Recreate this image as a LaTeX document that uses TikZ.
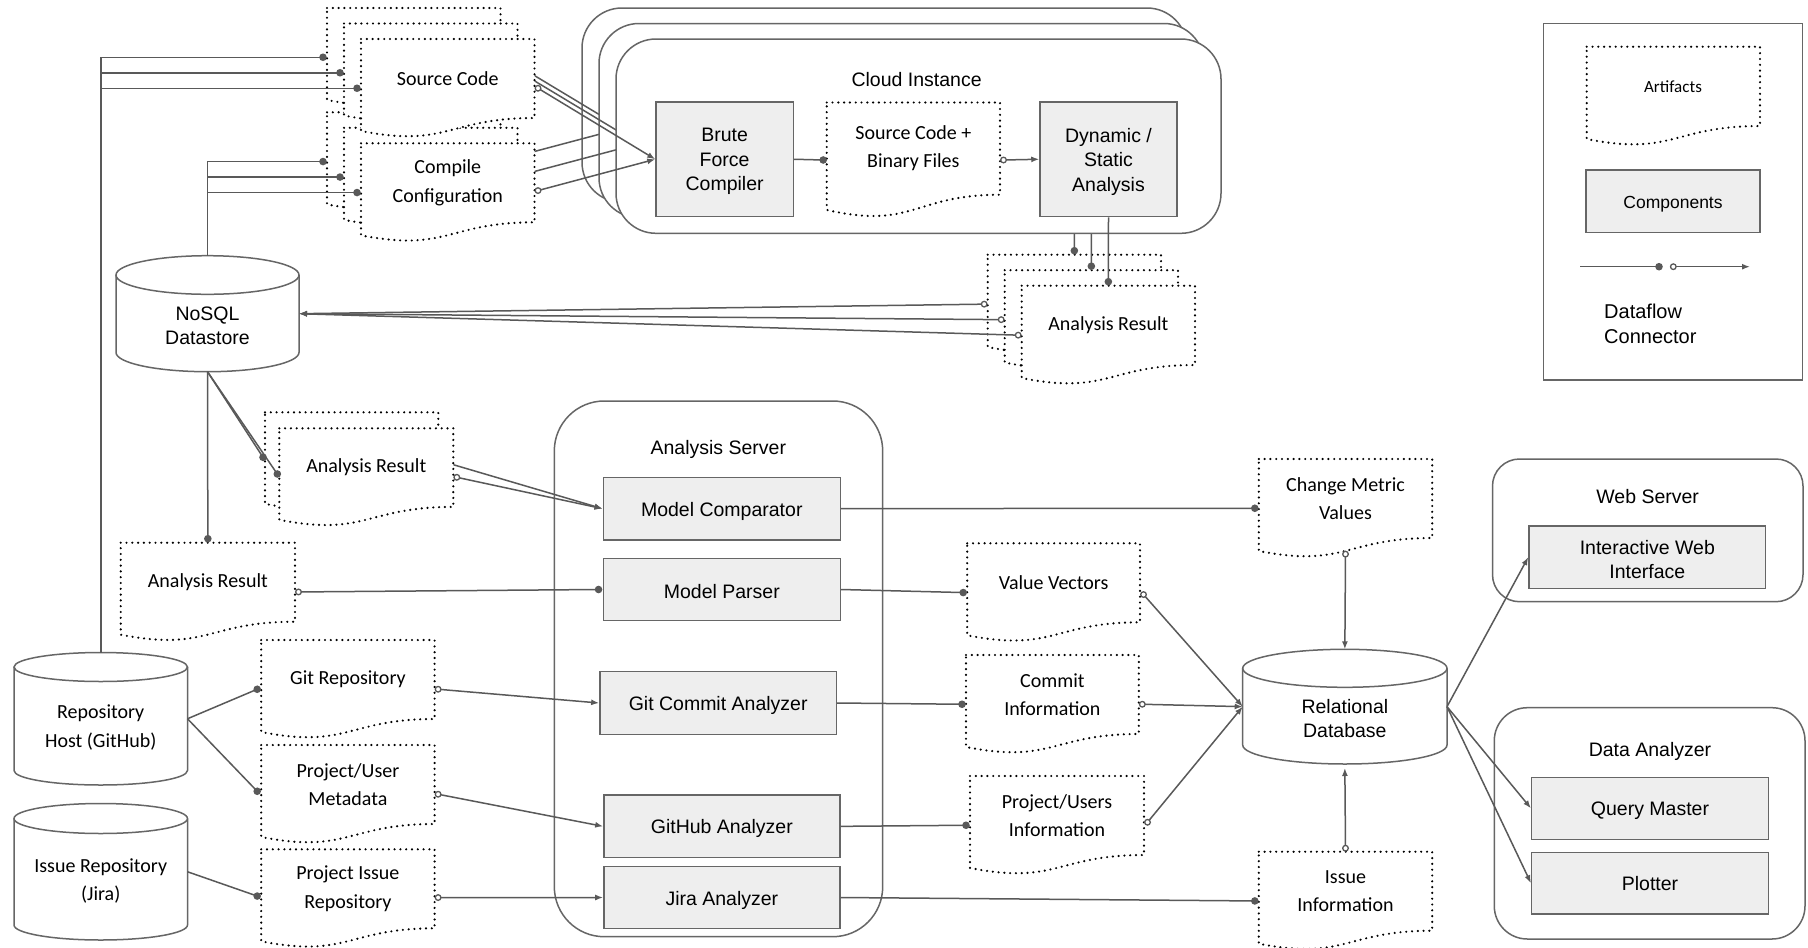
\documentclass[tikz,border=0pt]{standalone}
\usepackage{fontspec}
\setmainfont{Liberation Sans}
\newfontfamily\artf{Carlito}
\usetikzlibrary{calc,arrows.meta}
\definecolor{lc}{HTML}{595959}
\definecolor{bc}{HTML}{666666}
\definecolor{cf}{HTML}{EEEEEE}
\newcommand\comptxt{\fontsize{19.5}{24.5}\selectfont}
\newcommand\arttxt{\artf\fontsize{20}{28.3}\selectfont}
\tikzset{
  flow/.style={draw=lc, line width=1.5pt},
  arr/.style={draw=lc, line width=1.5pt, -{Latex[length=8pt,width=6pt]}},
  shapeline/.style={draw=bc, line width=1.5pt},
  docline/.style={draw=black, line width=2.4pt, dash pattern=on 0pt off 5.8pt, line cap=round, fill=white},
  anchorbox/.style={rectangle, inner sep=0pt, outer sep=0pt, draw=none},
  comp/.style={rectangle, draw=bc, line width=1.5pt, fill=cf, inner sep=0pt},
  cont/.style={rectangle, draw=bc, line width=1.5pt, fill=white, inner sep=0pt},
  ctextnode/.style={font=\comptxt, align=center, inner sep=0pt, yshift=-2.5pt},
  atextnode/.style={font=\arttxt, align=center, inner sep=0pt},
  cyltext/.style={font=\arttxt, align=center, inner sep=0pt, yshift=-1.5pt},
}
\newcommand\fldot[1]{\fill[lc] (#1) circle[radius=3.8];}
\newcommand\opdot[1]{\draw[lc, line width=1.3pt, fill=white] (#1) circle[radius=2.8];}
% component box: name, cx, cy, w, h, text
\newcommand\compnode[6]{%
  \node[comp, minimum width=#4pt, minimum height=#5pt] (#1) at (#2,#3) {};
  \node[ctextnode] (#1-t) at (#1.center) {#6};
}
% document (artifact) shape: name, x, y, w, h, text
\newcommand\docnode[6]{%
  \node[anchorbox, minimum width=#4pt, minimum height=#5pt, anchor=north west] (#1) at (#2,#3) {};
  \path[docline] (#1.north west) -- (#1.north east) -- ($(#1.north east)!0.802!(#1.south east)$)
    .. controls ($(#1.north)!0.802!(#1.south)$) and ($(#1.north)!1.107!(#1.south)$) ..
    ($(#1.north west)!0.934!(#1.south west)$) -- cycle;
  \if\relax\detokenize{#6}\relax\else
  \node[atextnode] (#1-t) at ($(#1.north)!0.4!(#1.south)$) {#6};
  \fi
}
% cylinder: name, L, T, W, H, ry, text, text style
\newcommand\cylnode[8]{%
  \pgfmathsetmacro\cyX{#2+#4/2}%
  \pgfmathsetmacro\cyR{#2+#4}%
  \pgfmathsetmacro\cyA{#3+#6}%
  \pgfmathsetmacro\cyB{#3+#5-#6}%
  \pgfmathsetmacro\cyBot{#3+#5}%
  \pgfmathsetmacro\cyH{#4/2}%
  \pgfmathsetmacro\cyKa{0.5523*#4/2}%
  \pgfmathsetmacro\cyKr{0.5523*#6}%
  \pgfmathsetmacro\cyT{(#3+#6+#3+#5)/2}%
  \node[anchorbox, minimum width=#4pt, minimum height=#5pt, anchor=north west] (#1) at (#2,#3) {};
  \draw[shapeline, fill=white] (#2,\cyA) -- (#2,\cyB) .. controls (#2,\cyB+\cyKr) and (\cyX-\cyKa,\cyBot) .. (\cyX,\cyBot)
     .. controls (\cyX+\cyKa,\cyBot) and (\cyR,\cyB+\cyKr) .. (\cyR,\cyB) -- (\cyR,\cyA);
  \draw[shapeline] (\cyX,\cyA) ellipse [x radius=\cyH, y radius=#6];
  \node[#8] (#1-t) at (\cyX,\cyT) {#7};
}
% connectors of one layer of the cloud stack
\newcommand\flowlines[1]{%
  \coordinate (scin#1) at ($(sc#1.west)+(-4,0)$);
  \coordinate (ccin#1) at ($(cc#1.west)+(-4,0)$);
  \coordinate (scout#1) at ($(sc#1.east)+(3.5,0)$);
  \coordinate (ccout#1) at ($(cc#1.east)+(3.5,-2)$);
  \coordinate (arin#1) at ($(ar#1.north)+(0,-4)$);
  \coordinate (arout#1) at ($(ar#1.west)+(-3.5,0)$);
  \draw[flow] (rh.north) |- (scin#1);
  \draw[flow] (nosql.north) |- (ccin#1);
  \draw[arr] (scout#1) -- (cmp#1);
  \draw[arr] (ccout#1) -- (cmp#1);
  \draw[flow] (dyn#1) -- (arin#1);
  \draw[arr] (arout#1) -- (nosql.east);
  \fldot{scin#1}\fldot{ccin#1}\opdot{scout#1}\opdot{ccout#1}\fldot{arin#1}\opdot{arout#1}
}
\newcommand\backlayer[1]{%
  \docnode{sc#1}{361}{39}{173.5}{98.5}{}
  \docnode{cc#1}{361}{143.3}{173.5}{98.5}{}
  \node[cont, rounded corners=40pt, minimum width=605pt, minimum height=194.3pt] (cl#1) at (918.5,136.15) {};
  \docnode{ar#1}{1021.7}{285.7}{173.3}{98.9}{}
  \coordinate (cmp#1) at (656,159.25);
  \coordinate (dyn#1) at (1108.5,216.5);
  \flowlines{#1}
}
\begin{document}
\begin{tikzpicture}[x=1pt,y=-1pt]
\useasboundingbox (0,0) rectangle (1808,948);
\fill[white] (0,0) rectangle (1808,948);

% datastores
\cylnode{rh}{14}{652.5}{173.5}{132.5}{14.5}{Repository\\Host (GitHub)}{cyltext}
\cylnode{ir}{14}{803.5}{173.5}{136.5}{15}{Issue Repository\\(Jira)}{cyltext}
\cylnode{nosql}{116}{255.7}{183}{116}{19.3}{NoSQL\\Datastore}{ctextnode}
\cylnode{rdb}{1242.7}{649.3}{204.3}{114.7}{19}{Relational\\Database}{ctextnode}

% stacked cloud instances
\begin{scope}[shift={(-34,-31)}]
  \backlayer{b}
\end{scope}
\begin{scope}[shift={(-17,-15.5)}]
  \backlayer{m}
\end{scope}

% front layer
\docnode{sc}{361}{39}{173.5}{98.5}{Source Code}
\docnode{cc}{361}{143.3}{173.5}{98.5}{Compile\\Configuration}
\node[cont, rounded corners=40pt, minimum width=605pt, minimum height=194.3pt] (cl) at (918.5,136.15) {};
\node[ctextnode] (cl-t) at (916.6,77) {Cloud Instance};
\compnode{bfc}{724.65}{159.25}{137.3}{114.5}{Brute\\Force\\Compiler}
\docnode{scb}{826.7}{102.5}{173.3}{115}{Source Code +\\Binary Files}
\compnode{dsa}{1108.5}{159.25}{137}{114.5}{Dynamic /\\Static\\Analysis}
\docnode{ar}{1021.7}{285.7}{173.3}{98.9}{Analysis Result}
\coordinate (cmp) at (bfc.west);
\coordinate (dyn) at (dsa.south);
\flowlines{}
\coordinate (scbin) at ($(scb.west)+(-3.5,0)$);
\coordinate (scbout) at ($(scb.east)+(3.5,0)$);
\draw[flow] (bfc.east) -- (scbin); \fldot{scbin}
\draw[arr] (scbout) -- (dsa.west); \opdot{scbout}

% analysis server
\node[cont, rounded corners=50pt, minimum width=328.4pt, minimum height=535.7pt] (as) at (718.5,668.85) {};
\node[ctextnode] (as-t) at (718.3,447.3) {Analysis Server};
\compnode{mc}{721.8}{508.65}{237}{62.7}{Model Comparator}
\compnode{mp}{721.8}{589.5}{237}{62.4}{Model Parser}
\compnode{gca}{718.15}{703}{236.5}{62.6}{Git Commit Analyzer}
\compnode{gha}{721.85}{826.35}{235.9}{62.7}{GitHub Analyzer}
\compnode{ja}{721.85}{897.5}{235.9}{61.6}{Jira Analyzer}

% analysis results from the datastore
\docnode{rs2b}{265}{412.3}{173.3}{98}{}
\coordinate (rs2bout) at ($(rs2b.east)+(3.5,0)$);
\draw[arr] (rs2bout) -- (mc.west); \opdot{rs2bout}
\docnode{rs2}{279.3}{428.3}{174}{98}{Analysis Result}
\coordinate (rs2out) at ($(rs2.east)+(3.5,0)$);
\draw[arr] (rs2out) -- (mc.west); \opdot{rs2out}
\coordinate (rs2bin) at ($(rs2b.west)+(-2,-4)$);
\coordinate (rs2in) at ($(rs2.west)+(-2,-3.3)$);
\draw[flow] (nosql.south) -- (rs2bin); \fldot{rs2bin}
\draw[flow] (nosql.south) -- (rs2in); \fldot{rs2in}
\docnode{rs3}{120.7}{542.7}{174.3}{98.5}{Analysis Result}
\coordinate (rs3in) at ($(rs3.north)+(0,-4)$);
\draw[flow] (nosql.south) -- (rs3in); \fldot{rs3in}
\coordinate (rs3out) at ($(rs3.east)+(3.5,0)$);
\coordinate (mpin) at ($(mp.west)+(-4,0)$);
\draw[flow] (rs3out) -- (mpin); \opdot{rs3out}\fldot{mpin}

% repository artifacts
\docnode{gr}{261.2}{640}{173.4}{98.5}{Git Repository}
\docnode{pum}{261.2}{745}{173.4}{98.5}{Project/User\\Metadata}
\docnode{pir}{261.2}{849.3}{173.4}{98.5}{Project Issue\\Repository}
\coordinate (grin) at ($(gr.west)+(-4,0)$);
\coordinate (pumin) at ($(pum.west)+(-4,-3)$);
\coordinate (pirin) at ($(pir.west)+(-4,-2.5)$);
\coordinate (grout) at ($(gr.east)+(3.5,0)$);
\coordinate (pumout) at ($(pum.east)+(3.5,0)$);
\coordinate (pirout) at ($(pir.east)+(3.5,-1)$);
\draw[flow] (rh.east) -- (grin); \fldot{grin}
\draw[flow] (rh.east) -- (pumin); \fldot{pumin}
\draw[flow] (ir.east) -- (pirin); \fldot{pirin}
\draw[arr] (grout) -- (gca.west); \opdot{grout}
\draw[arr] (pumout) -- (gha.west); \opdot{pumout}
\draw[arr] (pirout) -- (ja.west); \opdot{pirout}

% metric artifacts
\docnode{cmv}{1258.8}{459}{173.4}{98.5}{Change Metric\\Values}
\docnode{vv}{967.2}{543.3}{172.8}{98.5}{Value Vectors}
\docnode{ci}{966}{655}{172.8}{98.5}{Commit\\Information}
\docnode{pui}{970}{776}{174}{98.5}{Project/Users\\Information}
\docnode{ii}{1258.8}{851.7}{173.4}{98.5}{Issue\\Information}
\coordinate (cmvin) at ($(cmv.west)+(-4,0)$);
\coordinate (vvin) at ($(vv.west)+(-4,0)$);
\coordinate (ciin) at ($(ci.west)+(-4,0)$);
\coordinate (puiin) at ($(pui.west)+(-4,0)$);
\coordinate (iiin) at ($(ii.west)+(-4,0)$);
\draw[flow] (mc.east) -- (cmvin); \fldot{cmvin}
\draw[flow] (mp.east) -- (vvin); \fldot{vvin}
\draw[flow] (gca.east) -- (ciin); \fldot{ciin}
\draw[flow] (gha.east) -- (puiin); \fldot{puiin}
\draw[flow] (ja.east) -- (iiin); \fldot{iiin}
\coordinate (vvout) at ($(vv.east)+(3.5,2)$);
\coordinate (ciout) at ($(ci.east)+(3.5,0)$);
\coordinate (puiout) at ($(pui.east)+(3.5,-3)$);
\coordinate (cmvout) at ($(cmv.north)!0.933!(cmv.south)+(0,3.2)$);
\coordinate (iiout) at ($(ii.north)+(0,-3.5)$);
\draw[arr] (vvout) -- (rdb.west); \opdot{vvout}
\draw[arr] (ciout) -- (rdb.west); \opdot{ciout}
\draw[arr] (puiout) -- (rdb.west); \opdot{puiout}
\draw[arr] (cmvout) -- (rdb.north); \opdot{cmvout}
\draw[arr] (iiout) -- ($(rdb.south)+(0,4)$); \opdot{iiout}

% web server and data analyzer
\node[cont, rounded corners=27pt, minimum width=310.5pt, minimum height=142.7pt] (ws) at (1647.75,530.35) {};
\node[ctextnode] (ws-t) at (1647.7,493.7) {Web Server};
\compnode{iwi}{1647.35}{557.15}{236.7}{62.3}{Interactive Web\\Interface}
\node[cont, rounded corners=33pt, minimum width=310.7pt, minimum height=231.3pt] (da) at (1649.65,823.35) {};
\node[ctextnode] (da-t) at (1650,749.3) {Data Analyzer};
\compnode{qm}{1650}{808.3}{236.6}{62}{Query Master}
\node[comp, minimum width=236.6pt, minimum height=61.7pt] (pl) at (1650,883.15) {};
\node[ctextnode] (pl-t) at (1650,881.3) {Plotter};
\draw[arr] (rdb.east) -- (iwi.west);
\draw[arr] (rdb.east) -- (qm.west);
\draw[arr] (rdb.east) -- (pl.west);

% legend
\node[rectangle, draw=bc, line width=1.5pt, inner sep=0pt, minimum width=259.4pt, minimum height=356.7pt] (lg) at (1673,201.65) {};
\docnode{lga}{1586.7}{46.7}{173.3}{98.9}{}
\node[font=\artf\fontsize{17}{20}\selectfont, inner sep=0pt] (lga-t) at (1673,86.7) {Artifacts};
\node[comp, minimum width=174pt, minimum height=62.3pt] (lgc) at (1673,201.15) {};
\node[font=\fontsize{17.5}{21}\selectfont, inner sep=0pt, yshift=-3pt] (lgc-t) at (lgc.center) {Components};
\coordinate (lg1) at (1580,266.7);
\coordinate (lg2) at (1659,266.7);
\coordinate (lg3) at (1673.3,266.7);
\coordinate (lg4) at (1750,266.7);
\draw[flow] (lg1) -- (lg2); \fldot{lg2}
\draw[arr] (lg3) -- (lg4); \opdot{lg3}
\node[font=\fontsize{20}{25}\selectfont, align=left, anchor=west, inner sep=0pt] (lgd) at (1604,324) {Dataflow\\Connector};
\end{tikzpicture}
\end{document}
